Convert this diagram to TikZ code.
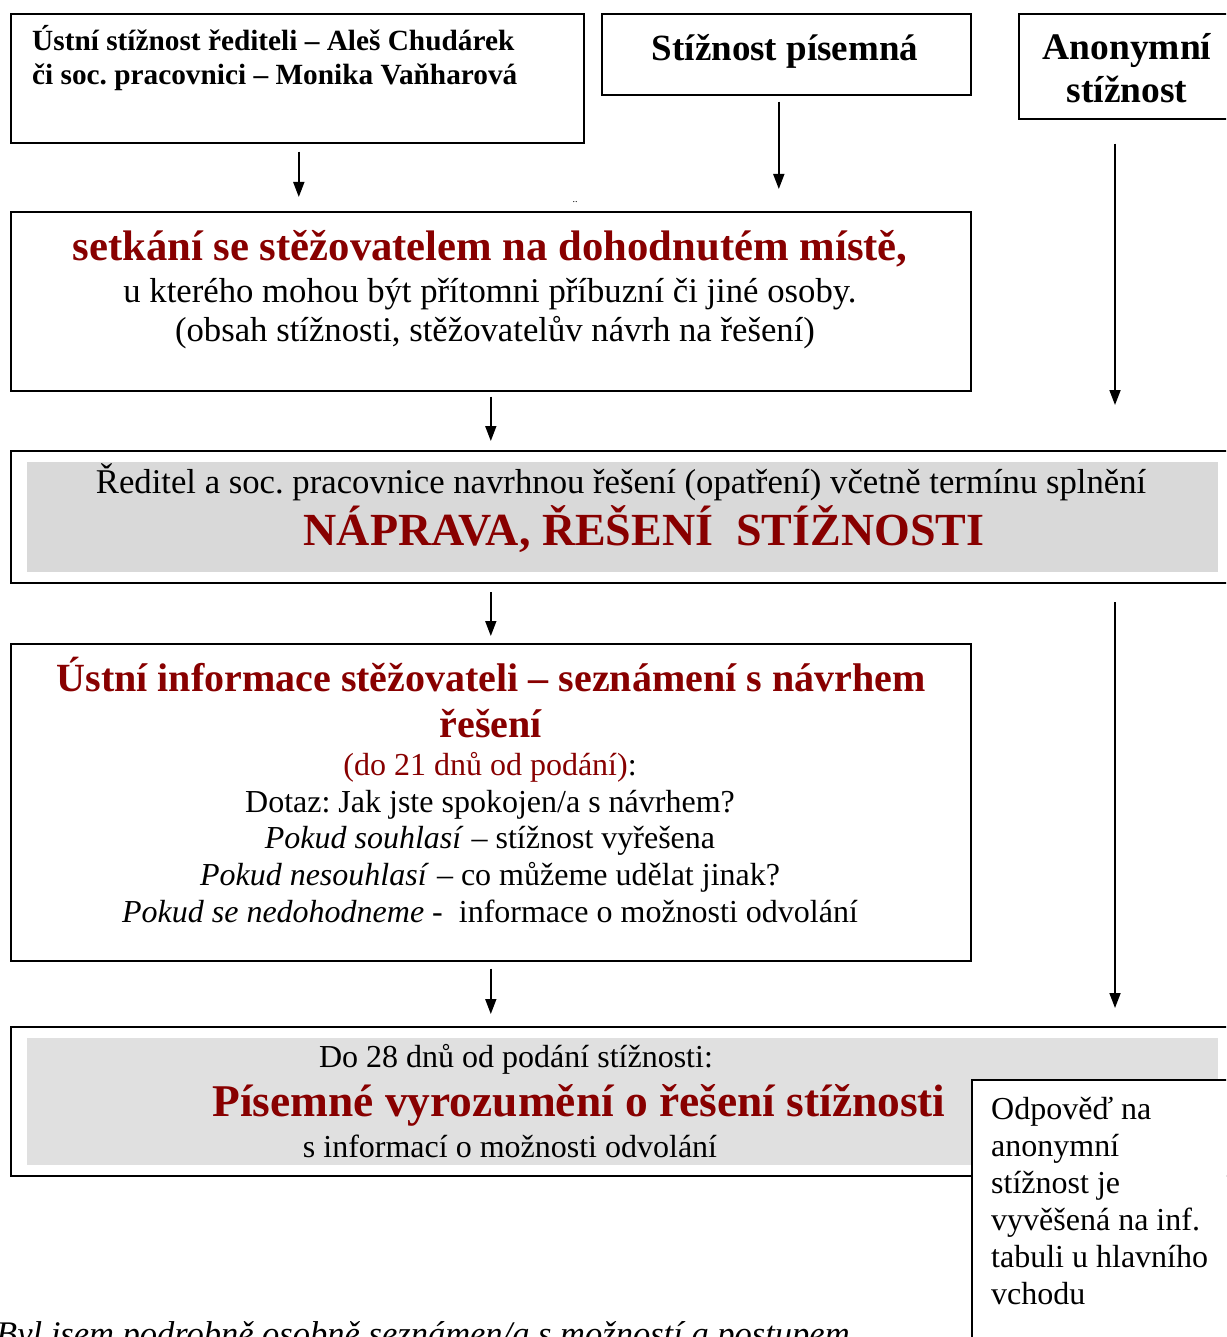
\documentclass[tikz,border=0pt]{standalone}
\usepackage{fontspec}
\setmainfont{Liberation Serif}
\usetikzlibrary{arrows.meta,calc}
\definecolor{dred}{RGB}{136,0,0}
\definecolor{grayA}{RGB}{217,217,217}
\definecolor{grayB}{RGB}{224,224,224}
\frenchspacing
\begin{document}
\begin{tikzpicture}[x=1pt,y=-1pt,
  box/.style={draw=black,line width=1.6pt,anchor=north west,inner sep=0pt,fill=white},
  arr/.style={line width=1.7pt,-{Triangle[width=11pt,length=15pt]}},
  txt/.style={inner sep=0pt,anchor=base},
  body/.style={font=\fontsize{32}{37}\selectfont},
  bodyL/.style={font=\fontsize{34.7}{40}\selectfont},
  ttl/.style={font=\fontsize{40}{46}\selectfont\bfseries,text=dred}]
\useasboundingbox (0,0) rectangle (1226,1337);
\clip (0,0) rectangle (1226,1337);
% boxes
\node[box,minimum width=573pt,minimum height=129pt] (b1) at (10,13) {};
\node[box,minimum width=369pt,minimum height=81pt] (b2) at (601,13) {};
\node[box,minimum width=230pt,minimum height=105pt] (b3) at (1018,13) {};
\node[box,minimum width=960pt,minimum height=179pt] (b4) at (10,211) {};
\node[box,line width=2.4pt,minimum width=1240pt,minimum height=132pt] (b5) at (10,450) {};
\fill[grayA] (27,462) rectangle (1218,572);
\node[box,minimum width=960pt,minimum height=317pt] (b6) at (10,643) {};
\node[box,minimum width=1240pt,minimum height=149pt] (b7) at (10,1026) {};
\fill[grayB] (27,1038) rectangle (1218,1165);
\node[box,minimum width=270pt,minimum height=290pt] (b8) at (971,1079) {};
\coordinate (cx) at (1115,0);
% texts box1
\node[txt,anchor=base west,font=\fontsize{29.3}{34}\selectfont\bfseries] (t1a) at (32,51) {Ústní stížnost řediteli – Aleš Chudárek};
\node[txt,anchor=base west,font=\fontsize{29.3}{34}\selectfont\bfseries] (t1b) at (32,85) {či soc. pracovnici – Monika Vaňharová};
\node[txt,font=\fontsize{37}{43}\selectfont\bfseries] (t2) at (785,61) {Stížnost písemná};
\node[txt,font=\fontsize{37.5}{43}\selectfont\bfseries] (t3a) at (1127,60) {Anonymní};
\node[txt,font=\fontsize{37.5}{43}\selectfont\bfseries] (t3b) at (1127,103) {stížnost};
\node[txt,font=\fontsize{10}{12}\selectfont] (dots) at (575,203) {..};
% box4
\node[txt,font=\fontsize{42.7}{48}\selectfont\bfseries,text=dred] (t4a) at (490,261) {setkání se stěžovatelem na dohodnutém místě,};
\node[txt,bodyL] (t4b) at (490,302) {u kterého mohou být přítomni příbuzní či jiné osoby.};
\node[txt,bodyL] (t4c) at (495,341) {(obsah stížnosti, stěžovatelův návrh na řešení)};
% box5
\node[txt,bodyL] (t5a) at (621,493) {Ředitel a soc. pracovnice navrhnou řešení (opatření) včetně termínu splnění};
\node[txt,font=\fontsize{46}{52}\selectfont\bfseries,text=dred] (t5b) at (644,545) {NÁPRAVA, ŘEŠENÍ\ \ STÍŽNOSTI};
% box6
\node[txt,ttl] (t6a) at (491,691) {Ústní informace stěžovateli – seznámení s návrhem};
\node[txt,ttl] (t6b) at (491,737) {řešení};
\node[txt,body] (t6c) at (490,775) {\textcolor{dred}{(do 21 dnů od podání)}:};
\node[txt,body] (t6d) at (490,812) {Dotaz: Jak jste spokojen/a s návrhem?};
\node[txt,body] (t6e) at (490,848) {\textit{Pokud souhlasí} – stížnost vyřešena};
\node[txt,body] (t6f) at (490,885) {\textit{Pokud nesouhlasí} – co můžeme udělat jinak?};
\node[txt,body] (t6g) at (490,922) {\textit{Pokud se nedohodneme} -\ \ informace o možnosti odvolání};
% box7
\node[txt,body] (t7a) at (516,1067) {Do 28 dnů od podání stížnosti:};
\node[txt,font=\fontsize{45.4}{52}\selectfont\bfseries,text=dred] (t7b) at (579,1116) {Písemné vyrozumění o řešení stížnosti};
\node[txt,body] (t7c) at (510,1157) {s informací o možnosti odvolání};
% box8
\node[inner sep=0pt,anchor=north west,align=left,body] (t8) at (991,1097) {Odpověď na\\anonymní\\stížnost je\\vyvěšená na inf.\\tabuli u hlavního\\vchodu};
% bottom
\node[txt,anchor=base west,font=\fontsize{34.5}{40}\selectfont\itshape] (t9) at (-4,1345) {Byl jsem podrobně osobně seznámen/a s možností a postupem};
% arrows
\draw[arr,shorten <=8pt,shorten >=14pt] ([xshift=1.5pt]b1.south) -- ([xshift=1.5pt]b1.south |- b4.north);
\draw[arr,shorten <=6pt,shorten >=22pt] ([xshift=-7.5pt]b2.south) -- ([xshift=-7.5pt]b2.south |- b4.north);
\draw[arr,shorten <=24pt,shorten >=45pt] (b3.south -| cx) -- (b5.north -| cx);
\draw[arr,shorten <=5pt,shorten >=9pt] (b4.south) -- (b4.south |- b5.north);
\draw[arr,shorten <=8pt,shorten >=7pt] (b6.north |- b5.south) -- (b6.north);
\draw[arr,shorten <=18pt,shorten >=18pt] (b5.south -| cx) -- (b7.north -| cx);
\draw[arr,shorten <=7pt,shorten >=12pt] (b6.south) -- (b6.south |- b7.north);
\end{tikzpicture}
\end{document}
